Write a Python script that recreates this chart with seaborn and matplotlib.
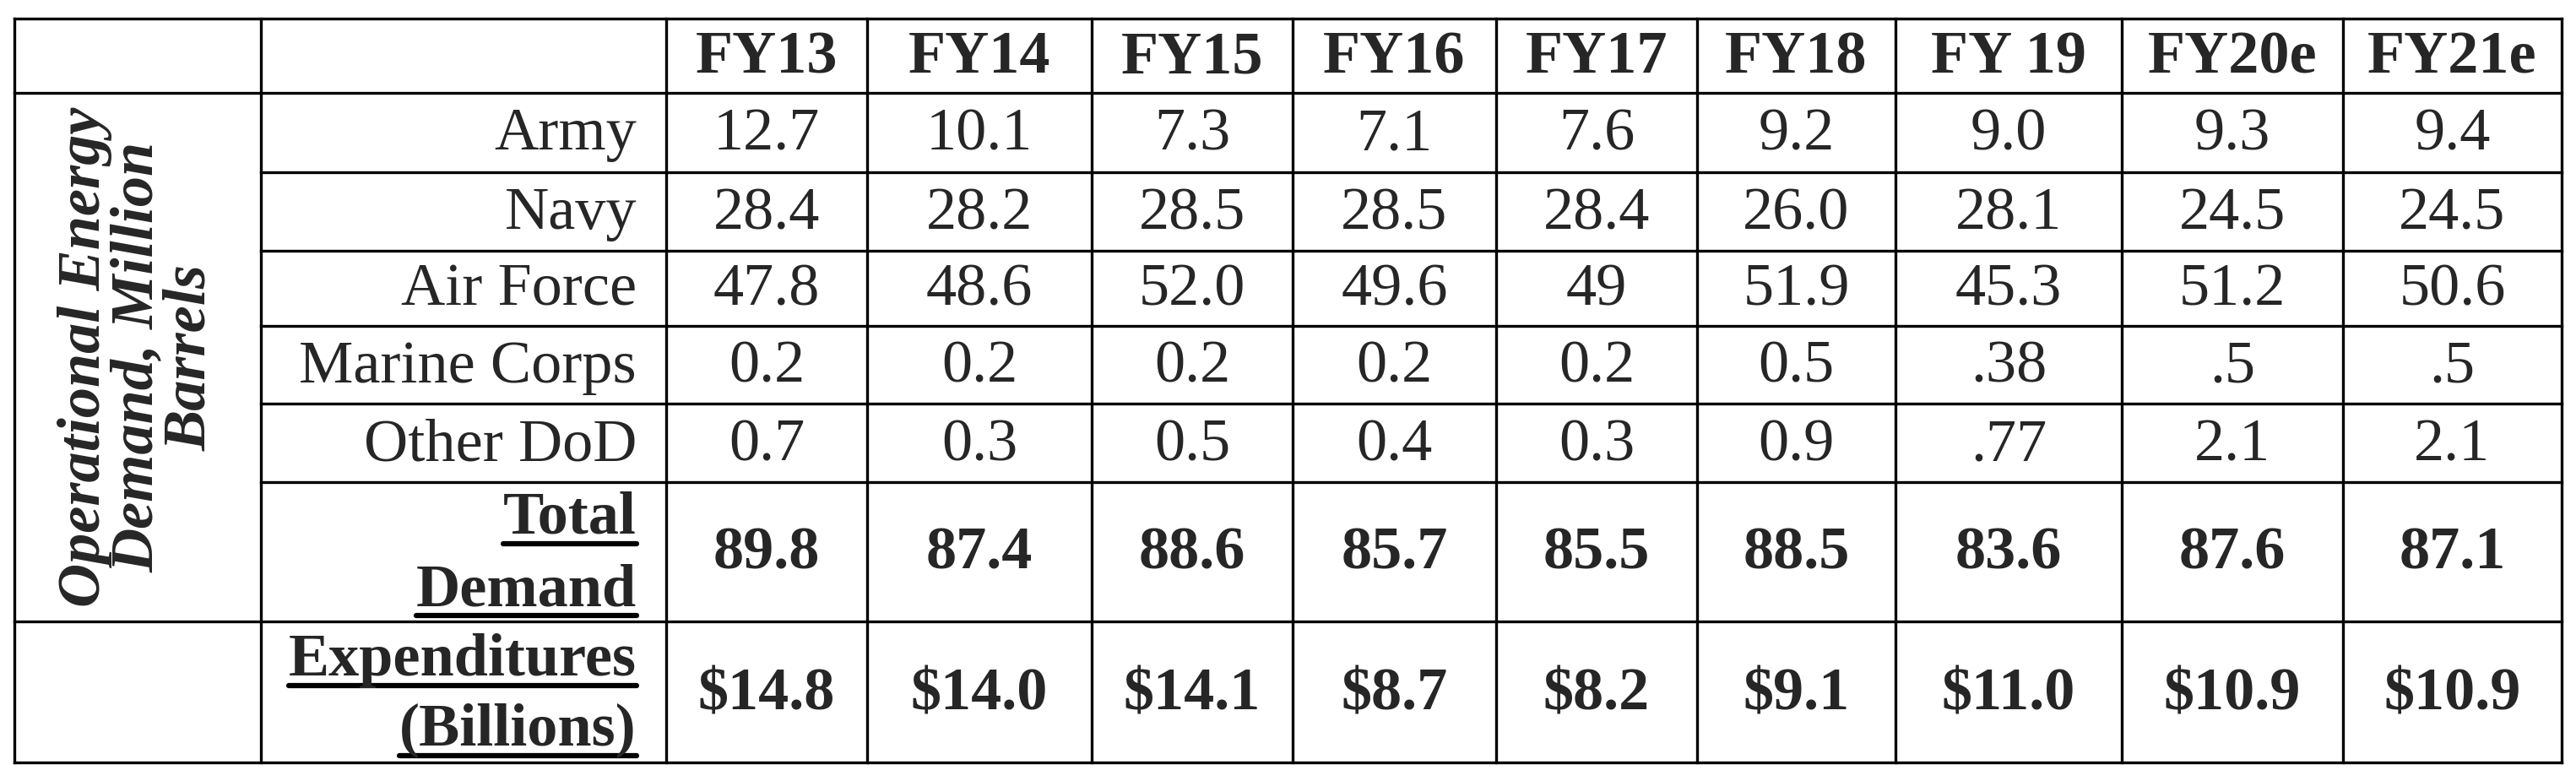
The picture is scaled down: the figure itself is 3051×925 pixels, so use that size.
import matplotlib
matplotlib.use("Agg")
import matplotlib.pyplot as plt
import seaborn as sns

years = ["FY13", "FY14", "FY15", "FY16", "FY17", "FY18", "FY 19", "FY20e", "FY21e"]
services = ["Army", "Navy", "Air Force", "Marine Corps", "Other DoD"]
army = ["12.7", "10.1", "7.3", "7.1", "7.6", "9.2", "9.0", "9.3", "9.4"]
navy = ["28.4", "28.2", "28.5", "28.5", "28.4", "26.0", "28.1", "24.5", "24.5"]
air_force = ["47.8", "48.6", "52.0", "49.6", "49", "51.9", "45.3", "51.2", "50.6"]
marine = ["0.2", "0.2", "0.2", "0.2", "0.2", "0.5", ".38", ".5", ".5"]
other = ["0.7", "0.3", "0.5", "0.4", "0.3", "0.9", ".77", "2.1", "2.1"]
total = ["89.8", "87.4", "88.6", "85.7", "85.5", "88.5", "83.6", "87.6", "87.1"]
expend = ["$14.8", "$14.0", "$14.1", "$8.7", "$8.2", "$9.1", "$11.0", "$10.9", "$10.9"]
group_label = "Operational Energy\nDemand, Million\nBarrels"

sns.set_theme(style="white")
plt.rcParams["font.family"] = ["Liberation Serif", "DejaVu Serif"]

W, H = 3051, 925
fig = plt.figure(figsize=(W / 100, H / 100), dpi=100)
ax = fig.add_axes([0, 0, 1, 1])
ax.set_xlim(0, W)
ax.set_ylim(H, 0)
ax.axis("off")

xs = [17, 309, 789, 1027, 1293, 1531, 1772, 2010, 2245, 2513, 2775, 3034]
ys = [22, 110, 204, 297, 386, 478, 571, 736, 903]
lw = 2.4
k = dict(color="black", lw=lw, solid_capstyle="projecting")
for i, y in enumerate(ys):
    x0 = xs[0] if i in (0, 1, 7, 8) else xs[1]
    ax.plot([x0, xs[-1]], [y, y], **k)
for x in xs:
    ax.plot([x, x], [ys[0], ys[-1]], **k)

fs = 52
for j, yr in enumerate(years):
    cx = (xs[j + 2] + xs[j + 3]) / 2
    ax.text(cx, (ys[0] + ys[1]) / 2 + 3, yr, ha="center", va="center", fontsize=fs, fontweight="bold")

rows = [army, navy, air_force, marine, other]
for r, (name, vals) in enumerate(zip(services, rows)):
    cy = (ys[r + 1] + ys[r + 2]) / 2 + 3
    ax.text(754, cy, name, ha="right", va="center", fontsize=fs)
    for j, v in enumerate(vals):
        cx = (xs[j + 2] + xs[j + 3]) / 2
        ax.text(cx, cy, v, ha="center", va="center", fontsize=fs)

for r, vals in ((5, total), (6, expend)):
    cy = (ys[r + 1] + ys[r + 2]) / 2 + 3
    for j, v in enumerate(vals):
        cx = (xs[j + 2] + xs[j + 3]) / 2
        ax.text(cx, cy, v, ha="center", va="center", fontsize=fs, fontweight="bold")

fig.canvas.draw()
r = fig.canvas.get_renderer()
inv = ax.transData.inverted()

def underlined(x, y, s):
    t = ax.text(x, y, s, ha="right", va="baseline", fontsize=fs, fontweight="bold")
    bb = t.get_window_extent(r)
    (x0, _), (x1, _) = inv.transform([[bb.x0, 0], [bb.x1, 0]])
    ax.plot([x0, x1], [y + 12, y + 12], color="black", lw=4.5)

underlined(754, 632, "Total")
underlined(754, 717, "Demand")
underlined(754, 800, "Expenditures")
underlined(754, 883, "(Billions)")

ax.text((xs[0] + xs[1]) / 2, (ys[1] + ys[7]) / 2, group_label, rotation=90,
        ha="center", va="center", multialignment="center", fontsize=fs,
        fontweight="bold", fontstyle="italic", linespacing=0.95)

fig.savefig("out.png", dpi=100, facecolor="white")
